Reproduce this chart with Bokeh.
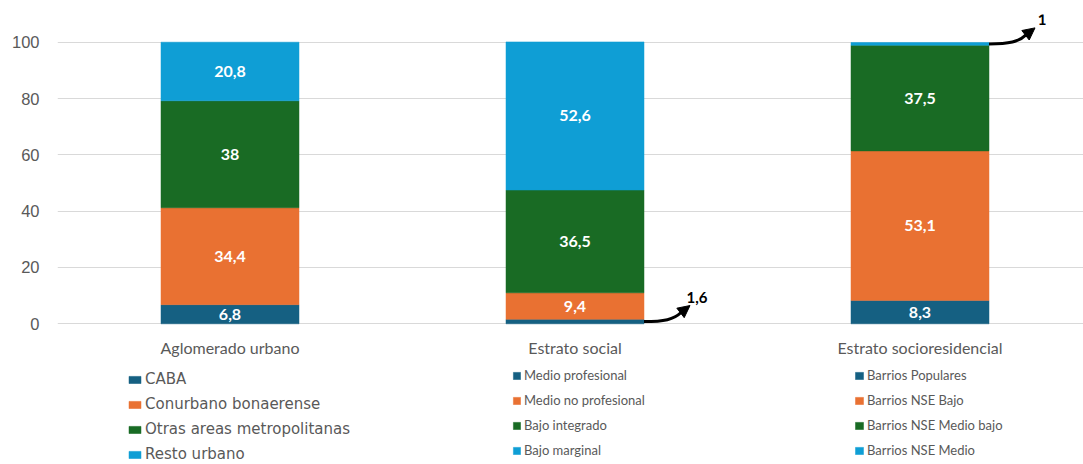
from bokeh.plotting import figure
from bokeh.models import (ColumnDataSource, FixedTicker, Legend, LegendItem,
                          Range1d, Arrow, NormalHead)
from bokeh.core.properties import value
from bokeh.embed import file_html
from bokeh.resources import INLINE

# ---------------- data ----------------
groups = ["Aglomerado urbano", "Estrato social", "Estrato socioresidencial"]

series_agl = ["CABA", "Conurbano bonaerense", "Otras areas metropolitanas", "Resto urbano"]
series_est = ["Medio profesional", "Medio no profesional", "Bajo integrado", "Bajo marginal"]
series_res = ["Barrios Populares", "Barrios NSE Bajo", "Barrios NSE Medio bajo", "Barrios NSE Medio"]

values_agl = [6.8, 34.4, 38, 20.8]
values_est = [1.6, 9.4, 36.5, 52.6]
values_res = [8.3, 53.1, 37.5, 1]

y_ticks = [0, 20, 40, 60, 80, 100]

colors = ["#156082", "#E97132", "#196B24", "#0F9ED5"]

# ---------------- layout constants ----------------
W, H = 1083, 464
BL, BR, BT, BB = 57, 0, 14, 0
PX_X = 345.0          # pixels per category unit
PX_Y = 2.816          # pixels per percentage point
ZERO_PX = 323.3       # screen row of the zero line
frame_w = W - BL - BR
frame_h = H - BT - BB
x_start = -0.5
x_end = x_start + frame_w / PX_X
y_end = (ZERO_PX - BT) / PX_Y
y_start = -(H - BB - ZERO_PX) / PX_Y
BAR_W = 0.4

GRAY = "#595959"

p = figure(width=W, height=H, output_backend="svg", toolbar_location=None,
           x_range=Range1d(x_start, x_end), y_range=Range1d(y_start, y_end),
           min_border_left=BL, min_border_right=BR, min_border_top=BT,
           min_border_bottom=BB)
p.outline_line_color = None
p.background_fill_color = "white"
p.border_fill_color = "white"

p.xaxis.visible = False

p.yaxis.ticker = FixedTicker(ticks=y_ticks)
p.yaxis.axis_line_color = None
p.yaxis.major_tick_line_color = None
p.yaxis.minor_tick_line_color = None
p.yaxis.major_tick_out = 0
p.yaxis.major_label_standoff = 18
p.yaxis.major_label_text_font = "Liberation Sans"
p.yaxis.major_label_text_font_size = "16.5px"
p.yaxis.major_label_text_color = GRAY

p.xgrid.grid_line_color = None
p.ygrid.ticker = FixedTicker(ticks=y_ticks)
p.ygrid.grid_line_color = "#d9d9d9"
p.ygrid.grid_line_width = 1


def fmt(v):
    return f"{v:g}".replace(".", ",")


def dx(px):
    return px / PX_X


def dy(px):
    return px / PX_Y


all_series = [series_agl, series_est, series_res]
all_values = [values_agl, values_est, values_res]

# category labels under the bars
p.text(x=list(range(len(groups))), y=[-dy(24)] * len(groups), text=groups,
       text_align="center", text_baseline="middle", text_color=GRAY,
       text_font=value("Lato"), text_font_size="16px")

# legend layout (screen px relative to frame bottom-left)
leg_cfg = [
    dict(vx=70, vy=0, font="DejaVu Sans", size="15px", gw=15, gh=9,
         lh=20, sp=5, so=3),
    dict(vx=455, vy=5, font="Lato", size="13px", gw=9, gh=9,
         lh=18, sp=7, so=3),
    dict(vx=797, vy=5, font="Lato", size="13px", gw=10, gh=9,
         lh=18, sp=7, so=3),
]

in_x, in_y, in_t = [], [], []
callouts = []
for gi, (names, vals) in enumerate(zip(all_series, all_values)):
    items = []
    bottom = 0.0
    for j, (name, v) in enumerate(zip(names, vals)):
        src = ColumnDataSource(dict(x=[gi], bottom=[bottom], top=[bottom + v]))
        r = p.vbar(x="x", bottom="bottom", top="top", width=BAR_W, source=src,
                   fill_color=colors[j], line_color=colors[j], line_width=0.5)
        items.append(LegendItem(label=name, renderers=[r]))
        if v >= 3:
            in_x.append(gi)
            in_y.append(bottom + v / 2)
            in_t.append(fmt(v))
        else:
            callouts.append((gi + BAR_W / 2, bottom + v / 2, fmt(v)))
        bottom += v
    c = leg_cfg[gi]
    leg = Legend(items=items, location=(c["vx"], c["vy"]), orientation="vertical",
                 padding=0, margin=0, spacing=c["sp"], label_height=c["lh"],
                 glyph_width=c["gw"], glyph_height=c["gh"], label_standoff=c["so"],
                 border_line_color=None, background_fill_alpha=0,
                 label_text_font=c["font"], label_text_font_size=c["size"],
                 label_text_color=GRAY)
    p.add_layout(leg)

p.text(x=in_x, y=in_y, text=in_t, text_align="center", text_baseline="middle",
       text_color="white", text_font=value("Lato"), text_font_style="bold",
       text_font_size="16px")

for (sx, sy, lab) in callouts:
    bx, by = sx + dx(37), sy + dy(9)
    p.bezier(x0=[sx], y0=[sy], x1=[bx], y1=[by],
             cx0=[sx + dx(20)], cy0=[sy], cx1=[sx + dx(30)], cy1=[sy + dy(2)],
             line_color="black", line_width=3)
    p.add_layout(Arrow(end=NormalHead(size=12, fill_color="black", line_color="black"),
                       x_start=bx, y_start=by, x_end=sx + dx(46), y_end=sy + dy(16),
                       line_color="black", line_width=3))
    p.text(x=[sx + dx(53)], y=[sy + dy(24)], text=[lab], text_align="center",
           text_baseline="middle", text_color="black", text_font=value("Lato"),
           text_font_style="bold", text_font_size="15px")

open("out.html", "w").write(file_html(p, INLINE))
